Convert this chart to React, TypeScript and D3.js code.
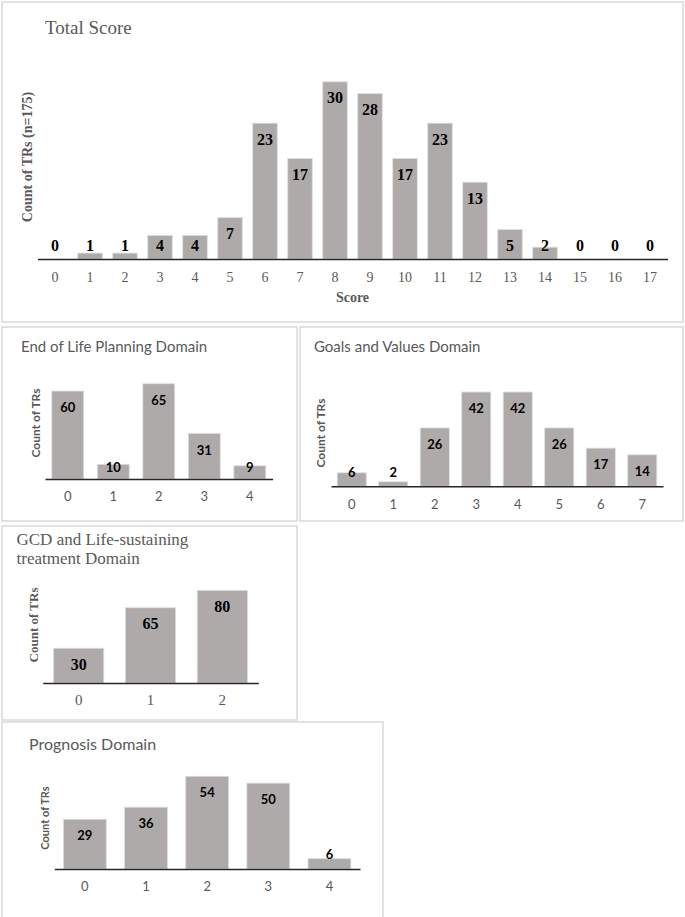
import React, { useEffect, useRef } from 'react';
import * as d3 from 'd3';

// values
const totalScores = ['0', '1', '2', '3', '4', '5', '6', '7', '8', '9', '10', '11', '12', '13', '14', '15', '16', '17'];
const totalCounts = [0, 1, 1, 4, 4, 7, 23, 17, 30, 28, 17, 23, 13, 5, 2, 0, 0, 0];

const eolScores = ['0', '1', '2', '3', '4'];
const eolCounts = [60, 10, 65, 31, 9];

const goalsScores = ['0', '1', '2', '3', '4', '5', '6', '7'];
const goalsCounts = [6, 2, 26, 42, 42, 26, 17, 14];

const gcdScores = ['0', '1', '2'];
const gcdCounts = [30, 65, 80];

const progScores = ['0', '1', '2', '3', '4'];
const progCounts = [29, 36, 54, 50, 6];

const SERIF = "'Liberation Serif', 'DejaVu Serif', serif";
const SANS = "Lato, 'Open Sans', sans-serif";

const BAR = '#aeaaaa';
const TEXT_GRAY = '#595959';

type Panel = {
    box: [number, number, number, number];
    title: string[];
    titleX: number;
    titleY: number;
    titleSize: number;
    titleFont: string;
    cats: string[];
    vals: number[];
    xRange: [number, number];
    axisY: number;
    yMax: number;
    yTop: number;
    labelFont: string;
    labelSize: number;
    labelClamp: number;
    tickY: number;
    tickFont: string;
    tickSize: number;
    yTitle: string;
    yTitleX: number;
    yTitleY: number;
    yTitleFont: string;
    yTitleSize: number;
    xTitle?: string;
};

const panels: Panel[] = [
    {
        box: [2, 2, 681, 320], title: ['Total Score'], titleX: 45, titleY: 27, titleSize: 19, titleFont: SERIF,
        cats: totalScores, vals: totalCounts, xRange: [37.5, 667.5], axisY: 259, yMax: 32, yTop: 70,
        labelFont: SERIF, labelSize: 16, labelClamp: 13.5, tickY: 277, tickFont: SERIF, tickSize: 14,
        yTitle: 'Count of TRs (n=175)', yTitleX: 27, yTitleY: 157, yTitleFont: SERIF, yTitleSize: 14, xTitle: 'Score',
    },
    {
        box: [2, 327, 295, 194], title: ['End of Life Planning Domain'], titleX: 21, titleY: 346, titleSize: 15, titleFont: SANS,
        cats: eolScores, vals: eolCounts, xRange: [45, 272.6], axisY: 479, yMax: 70, yTop: 376.4,
        labelFont: SANS, labelSize: 13, labelClamp: 12.5, tickY: 496, tickFont: SANS, tickSize: 13,
        yTitle: 'Count of TRs', yTitleX: 35, yTitleY: 423, yTitleFont: SANS, yTitleSize: 12,
    },
    {
        box: [300, 327, 383, 194], title: ['Goals and Values Domain'], titleX: 314, titleY: 346, titleSize: 15, titleFont: SANS,
        cats: goalsScores, vals: goalsCounts, xRange: [331, 663], axisY: 486.3, yMax: 45, yTop: 385.3,
        labelFont: SANS, labelSize: 13, labelClamp: 14, tickY: 504, tickFont: SANS, tickSize: 13,
        yTitle: 'Count of TRs', yTitleX: 320, yTitleY: 433, yTitleFont: SANS, yTitleSize: 12,
    },
    {
        box: [2, 526, 295, 194], title: ['GCD and Life-sustaining', 'treatment Domain'], titleX: 16.5, titleY: 539, titleSize: 17, titleFont: SERIF,
        cats: gcdScores, vals: gcdCounts, xRange: [42.7, 258.3], axisY: 683, yMax: 90, yTop: 578.8,
        labelFont: SERIF, labelSize: 16, labelClamp: 14, tickY: 700, tickFont: SERIF, tickSize: 15,
        yTitle: 'Count of TRs', yTitleX: 33, yTitleY: 625, yTitleFont: SERIF, yTitleSize: 13,
    },
    {
        box: [2, 722, 381, 200], title: ['Prognosis Domain'], titleX: 29, titleY: 743.5, titleSize: 16, titleFont: SANS,
        cats: progScores, vals: progCounts, xRange: [54.3, 360], axisY: 869, yMax: 60, yTop: 766,
        labelFont: SANS, labelSize: 13, labelClamp: 15, tickY: 886, tickFont: SANS, tickSize: 13,
        yTitle: 'Count of TRs', yTitleX: 44, yTitleY: 818, yTitleFont: SANS, yTitleSize: 11,
    },
];

function drawPanel(svg: d3.Selection<SVGSVGElement, unknown, null, undefined>, p: Panel) {
    const g = svg.append('g');

    g.append('rect')
        .attr('x', p.box[0])
        .attr('y', p.box[1])
        .attr('width', p.box[2])
        .attr('height', p.box[3])
        .attr('fill', '#fff')
        .attr('stroke', '#d9d9d9')
        .attr('stroke-width', 1.5);

    g.selectAll('text.title')
        .data(p.title)
        .enter()
        .append('text')
        .attr('class', 'title')
        .attr('x', p.titleX)
        .attr('y', (d, i) => p.titleY + i * 19)
        .attr('dominant-baseline', 'central')
        .attr('font-family', p.titleFont)
        .attr('font-size', p.titleSize)
        .attr('fill', TEXT_GRAY)
        .text(d => d);

    const x = d3.scaleBand<string>()
        .domain(p.cats)
        .range(p.xRange)
        .paddingInner(0.3)
        .paddingOuter(0.15);

    const y = d3.scaleLinear()
        .domain([0, p.yMax])
        .range([p.axisY, p.yTop]);

    const data = p.cats.map((c, i) => ({ cat: c, val: p.vals[i] }));

    g.selectAll('rect.bar')
        .data(data)
        .enter()
        .append('rect')
        .attr('class', 'bar')
        .attr('x', d => x(d.cat) as number)
        .attr('y', d => y(d.val))
        .attr('width', x.bandwidth())
        .attr('height', d => y(0) - y(d.val))
        .attr('fill', BAR)
        .attr('stroke', '#dedcdc')
        .attr('stroke-width', 0.8);

    // data labels: inside end, pushed up when the bar is too short
    g.selectAll('text.lbl')
        .data(data)
        .enter()
        .append('text')
        .attr('class', 'lbl')
        .attr('x', d => (x(d.cat) as number) + x.bandwidth() / 2)
        .attr('y', d => Math.min(y(d.val) + 16, p.axisY - p.labelClamp))
        .attr('text-anchor', 'middle')
        .attr('dominant-baseline', 'central')
        .attr('font-family', p.labelFont)
        .attr('font-weight', 'bold')
        .attr('font-size', p.labelSize)
        .attr('fill', '#000')
        .text(d => d.val);

    const xAxis = d3.axisBottom(x).tickSize(0).tickPadding(0);
    const ax = g.append('g')
        .attr('transform', `translate(0,${p.axisY})`)
        .call(xAxis);
    ax.select('.domain')
        .attr('stroke', '#262626')
        .attr('stroke-width', 1.5);
    ax.selectAll('.tick text')
        .attr('y', p.tickY - p.axisY)
        .attr('dy', null)
        .attr('dominant-baseline', 'central')
        .attr('font-family', p.tickFont)
        .attr('font-size', p.tickSize)
        .attr('fill', TEXT_GRAY);

    g.append('text')
        .attr('transform', `translate(${p.yTitleX},${p.yTitleY}) rotate(-90)`)
        .attr('text-anchor', 'middle')
        .attr('dominant-baseline', 'central')
        .attr('font-family', p.yTitleFont)
        .attr('font-weight', 'bold')
        .attr('font-size', p.yTitleSize)
        .attr('fill', TEXT_GRAY)
        .text(p.yTitle);

    if (p.xTitle) {
        g.append('text')
            .attr('x', (p.xRange[0] + p.xRange[1]) / 2)
            .attr('y', 297)
            .attr('text-anchor', 'middle')
            .attr('dominant-baseline', 'central')
            .attr('font-family', SERIF)
            .attr('font-weight', 'bold')
            .attr('font-size', 14)
            .attr('fill', TEXT_GRAY)
            .text(p.xTitle);
    }
}

export default function App() {
    const ref = useRef<SVGSVGElement>(null);

    useEffect(() => {
        const svg = d3.select(ref.current as SVGSVGElement);
        svg.selectAll('*').remove();
        panels.forEach(p => drawPanel(svg, p));
    }, []);

    return (
        <svg
            ref={ref}
            width={685}
            height={917}
            style={{ position: 'absolute', left: 0, top: 0, background: '#fff' }}
        />
    );
}
